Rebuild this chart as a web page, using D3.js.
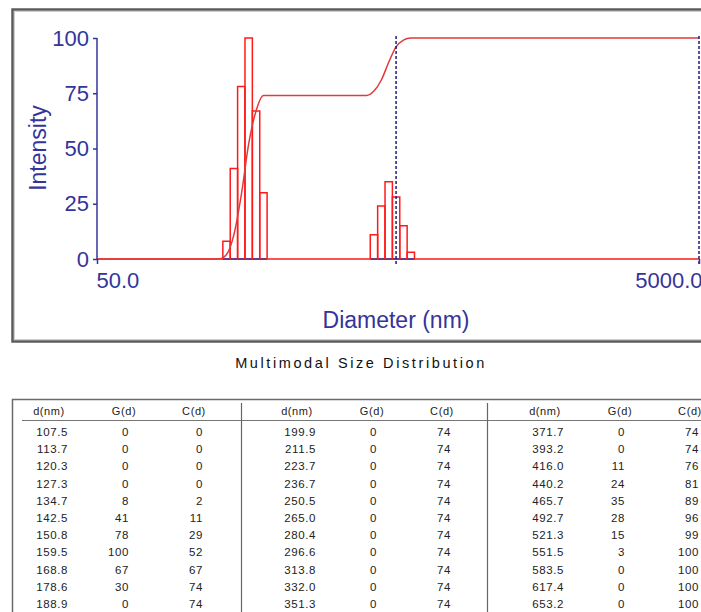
<!DOCTYPE html>
<html>
<head>
<meta charset="utf-8">
<script src="https://cdn.jsdelivr.net/npm/d3@7/dist/d3.min.js"></script>
<style>
	html, body { margin: 0; padding: 0; background: #fff; }
	svg { display: block; }
</style>
</head>
<body>
<svg id="chart" width="701" height="612"></svg>
<script>
'use strict'

// size distribution
let diameters = [107.5, 113.7, 120.3, 127.3, 134.7, 142.5, 150.8, 159.5, 168.8, 178.6, 188.9,
	199.9, 211.5, 223.7, 236.7, 250.5, 265.0, 280.4, 296.6, 313.8, 332.0, 351.3,
	371.7, 393.2, 416.0, 440.2, 465.7, 492.7, 521.3, 551.5, 583.5, 617.4, 653.2];
let gValues = [0, 0, 0, 0, 8, 41, 78, 100, 67, 30, 0,
	0, 0, 0, 0, 0, 0, 0, 0, 0, 0, 0,
	0, 0, 11, 24, 35, 28, 15, 3, 0, 0, 0];
let cValues = [0, 0, 0, 0, 2, 11, 29, 52, 67, 74, 74,
	74, 74, 74, 74, 74, 74, 74, 74, 74, 74, 74,
	74, 74, 76, 81, 89, 96, 99, 100, 100, 100, 100];

let xDomain = [50, 5000];
let yTicks = [0, 25, 50, 75, 100];
let xTickLabels = ['50.0', '5000.0'];
let markers = [492.7, 5000];
let tableHeaders = ['d(nm)', 'G(d)', 'C(d)'];

let svg = d3.select('#chart');

let x = d3.scaleLog().domain(xDomain).range([97, 699]);
let y = d3.scaleLinear().domain([0, 100]).range([259, 38]);

let navy = '#34349a',
	red = '#ff1a1a';

// chart frame
svg.append('rect')
	.attr('x', 12.5).attr('y', 9.5)
	.attr('width', 720).attr('height', 332)
	.attr('fill', '#fff')
	.attr('stroke', '#5c5c5c')
	.attr('stroke-width', 2.5);
svg.append('rect')
	.attr('x', 14.5).attr('y', 11.5)
	.attr('width', 720).attr('height', 328)
	.attr('fill', 'none')
	.attr('stroke', '#cfcfcf')
	.attr('stroke-width', 1);

let plot = svg.append('g');

// zero line of the distribution
plot.append('line')
	.attr('x1', x.range()[0]).attr('x2', x.range()[1])
	.attr('y1', y(0)).attr('y2', y(0))
	.attr('stroke', red)
	.attr('stroke-width', 1.5);

// bar edges half way (in log space) to the neighbours
let rows = diameters.map(function(d, i) {
	let prev = i > 0 ? diameters[i - 1] : d * d / diameters[i + 1],
		next = i < diameters.length - 1 ? diameters[i + 1] : d * d / diameters[i - 1];
	return {d: d, g: gValues[i], c: cValues[i], lo: Math.sqrt(prev * d), hi: Math.sqrt(d * next)};
});
let bars = rows.filter(r => r.g > 0);

// axis line showing under the bars
plot.selectAll('line.under')
	.data(bars)
	.enter().append('line')
	.attr('class', 'under')
	.attr('x1', r => x(r.lo)).attr('x2', r => x(r.hi))
	.attr('y1', y(0)).attr('y2', y(0))
	.attr('stroke', navy)
	.attr('stroke-width', 1.5);

plot.selectAll('path.bar')
	.data(bars)
	.enter().append('path')
	.attr('class', 'bar')
	.attr('d', r => `M${x(r.lo)},${y(0)}V${y(r.g)}H${x(r.hi)}V${y(0)}`)
	.attr('fill', 'none')
	.attr('stroke', red)
	.attr('stroke-width', 1.5);

// cumulative curve, held flat out to the axis ends
let cumPoints = [[xDomain[0], cValues[0]]]
	.concat(rows.map(r => [r.d, r.c]))
	.concat([[xDomain[1], cValues[cValues.length - 1]]]);
let line = d3.line()
	.x(p => x(p[0]))
	.y(p => y(p[1]))
	.curve(d3.curveMonotoneX);
plot.append('path')
	.attr('d', line(cumPoints))
	.attr('fill', 'none')
	.attr('stroke', '#e03a3a')
	.attr('stroke-width', 1.5);

// dotted marker lines
plot.selectAll('line.marker')
	.data(markers)
	.enter().append('line')
	.attr('class', 'marker')
	.attr('x1', d => x(d)).attr('x2', d => x(d))
	.attr('y1', y(100) - 2).attr('y2', y(0) + 5)
	.attr('stroke', '#1c1c78')
	.attr('stroke-width', 1.5)
	.attr('stroke-dasharray', '3,2');

// y axis
let yAxis = d3.axisLeft(y).tickValues(yTicks).tickSize(4).tickPadding(4);
let gy = svg.append('g')
	.attr('transform', `translate(${x.range()[0]},0)`)
	.call(yAxis);
gy.select('.domain').attr('stroke', navy).attr('stroke-width', 1.5).attr('d', `M0,${y(100)}V${y(0)}`);
gy.selectAll('.tick line').attr('stroke', navy).attr('stroke-width', 1.5);
gy.selectAll('.tick text')
	.attr('fill', navy)
	.style('font', '22px "Liberation Sans", Arial, sans-serif');

// x axis: only the two end ticks
let xAxis = d3.axisBottom(x).tickValues(xDomain).tickSize(5).tickFormat((d, i) => xTickLabels[i]);
let gx = svg.append('g')
	.attr('transform', `translate(0,${y(0)})`)
	.call(xAxis);
gx.select('.domain').remove();
gx.selectAll('.tick line').attr('stroke', navy).attr('stroke-width', 1.5);
gx.selectAll('.tick text')
	.attr('fill', navy)
	.attr('dy', '0.95em')
	.attr('text-anchor', (d, i) => i === 0 ? 'start' : 'end')
	.attr('dx', (d, i) => i === 0 ? -1 : 3)
	.style('font', '22px "Liberation Sans", Arial, sans-serif');

// axis titles
svg.append('text')
	.attr('transform', 'translate(46,148) rotate(-90)')
	.attr('text-anchor', 'middle')
	.attr('fill', navy)
	.style('font', '23px "Liberation Sans", Arial, sans-serif')
	.text('Intensity');
svg.append('text')
	.attr('x', 396).attr('y', 328)
	.attr('text-anchor', 'middle')
	.attr('fill', navy)
	.style('font', '23px "Liberation Sans", Arial, sans-serif')
	.text('Diameter (nm)');

svg.append('text')
	.attr('x', 361).attr('y', 368)
	.attr('text-anchor', 'middle')
	.attr('fill', '#111')
	.style('font', '14.5px "Liberation Sans", Arial, sans-serif')
	.style('letter-spacing', '2.6px')
	.text('Multimodal Size Distribution');

// table of values, three column groups of 11 rows
let table = svg.append('g');
table.append('rect')
	.attr('x', 12.5).attr('y', 399.5)
	.attr('width', 720).attr('height', 240)
	.attr('fill', '#fff')
	.attr('stroke', '#6a6a6a')
	.attr('stroke-width', 1.5);
table.append('line')
	.attr('x1', 22).attr('x2', 701)
	.attr('y1', 420.5).attr('y2', 420.5)
	.attr('stroke', '#777').attr('stroke-width', 1.2);

let groupX = [0, 248, 496],
	separators = [241.5, 487.5],
	colRight = [68, 129, 203],
	headCenter = [49, 124, 194],
	rowTop = 432,
	rowStep = 17.2,
	perGroup = 11;

table.selectAll('line.sep')
	.data(separators)
	.enter().append('line')
	.attr('class', 'sep')
	.attr('x1', d => d).attr('x2', d => d)
	.attr('y1', 403).attr('y2', 612)
	.attr('stroke', '#666').attr('stroke-width', 1.2);

groupX.forEach(function(gx0, gi) {
	let g = table.append('g').attr('transform', `translate(${gx0},0)`);
	g.selectAll('text.head')
		.data(tableHeaders)
		.enter().append('text')
		.attr('class', 'head')
		.attr('x', (d, i) => headCenter[i])
		.attr('y', 411)
		.attr('dy', '0.35em')
		.attr('text-anchor', 'middle')
		.attr('fill', '#222')
		.style('font', '11px "Liberation Sans", Arial, sans-serif')
		.style('letter-spacing', '0.6px')
		.text(d => d);

	let part = rows.slice(gi * perGroup, (gi + 1) * perGroup);
	part.forEach(function(r, ri) {
		let cells = [r.d.toFixed(1), String(r.g), String(r.c)];
		g.selectAll(null)
			.data(cells)
			.enter().append('text')
			.attr('x', (d, i) => colRight[i])
			.attr('y', rowTop + ri * rowStep)
			.attr('dy', '0.35em')
			.attr('text-anchor', 'end')
			.attr('fill', '#222')
			.style('font', '11.5px "Liberation Sans", Arial, sans-serif')
			.style('letter-spacing', '0.6px')
			.text(d => d);
	});
});
</script>
</body>
</html>
